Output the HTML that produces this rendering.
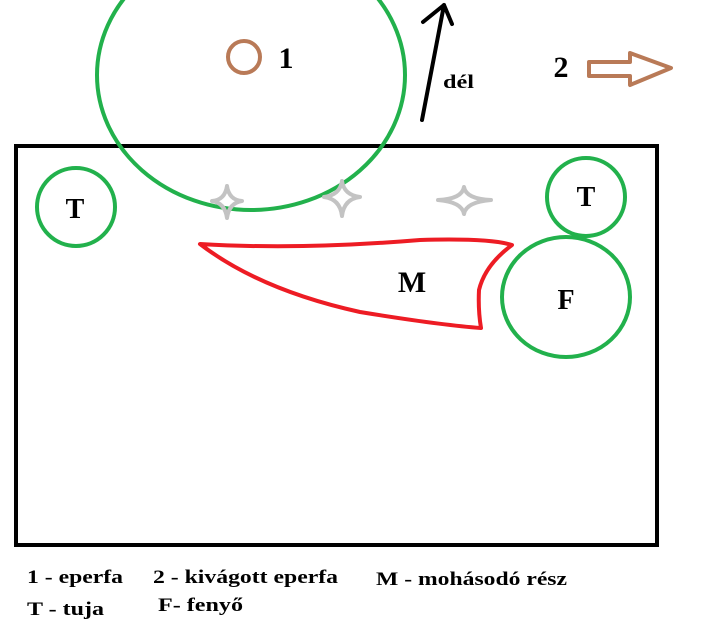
<!DOCTYPE html>
<html><head><style>body{margin:0;background:#fff}svg{display:block}</style></head><body>
<svg width="709" height="632" viewBox="0 0 709 632" xmlns="http://www.w3.org/2000/svg" font-family="Liberation Serif, serif" font-weight="bold">
<rect x="16" y="146" width="641" height="399" fill="none" stroke="#000" stroke-width="4"/>
<ellipse cx="251" cy="75" rx="154" ry="135" fill="none" stroke="#22b14c" stroke-width="4"/>
<circle cx="76" cy="207" r="39" fill="none" stroke="#22b14c" stroke-width="4"/>
<circle cx="586" cy="197" r="39" fill="none" stroke="#22b14c" stroke-width="4"/>
<ellipse cx="566" cy="297" rx="64" ry="60" fill="none" stroke="#22b14c" stroke-width="4"/>
<circle cx="244" cy="57" r="16" fill="none" stroke="#b97a57" stroke-width="4"/>
<g fill="none" stroke="#c3c3c3" stroke-width="4" stroke-linejoin="round">
<path d="M227 186 Q229 200 242 201 Q229 203 227 218 Q225 203 212 201 Q225 200 227 186Z"/>
<path d="M342 181 Q344 195 360 197 Q344 199 342 216 Q340 199 324 197 Q340 195 342 181Z"/>
<path d="M464 187 Q466 199 491 200 Q466 202 464 214 Q462 202 438 200 Q462 199 464 187Z"/>
</g>
<path d="M200 244 Q300 250 420 240 Q490 238 512 245 Q485 265 479 290 Q478 310 481 328 Q440 325 360 312 Q260 290 200 244Z" fill="none" stroke="#ed1c24" stroke-width="4" stroke-linejoin="round"/>
<path d="M422 120 L444 5 M423 22 L444 5 L452 24" fill="none" stroke="#000" stroke-width="4" stroke-linecap="round" stroke-linejoin="round"/>
<path d="M589 62 L630 62 L630 53 L671 68 L630 85 L630 76 L589 76Z" fill="none" stroke="#b97a57" stroke-width="4" stroke-linejoin="round"/>
<g fill="#000" text-anchor="middle">
<text x="286" y="68" font-size="30">1</text>
<text x="561" y="77" font-size="30">2</text>
<text x="75" y="218" font-size="28">T</text>
<text x="586" y="206" font-size="28">T</text>
<text x="566" y="309" font-size="28">F</text>
<text x="412" y="292" font-size="30">M</text>
</g>
<g font-size="19" fill="#000" lengthAdjust="spacingAndGlyphs">
<text x="443" y="88" textLength="31" lengthAdjust="spacingAndGlyphs">dél</text>
<text x="27" y="583" textLength="96" lengthAdjust="spacingAndGlyphs">1 - eperfa</text>
<text x="153" y="583" textLength="185" lengthAdjust="spacingAndGlyphs">2 - kivágott eperfa</text>
<text x="376" y="585" textLength="191" lengthAdjust="spacingAndGlyphs">M - mohásodó rész</text>
<text x="27" y="615" textLength="77" lengthAdjust="spacingAndGlyphs">T - tuja</text>
<text x="158" y="611" textLength="85" lengthAdjust="spacingAndGlyphs">F- fenyő</text>
</g>
</svg>
</body></html>
